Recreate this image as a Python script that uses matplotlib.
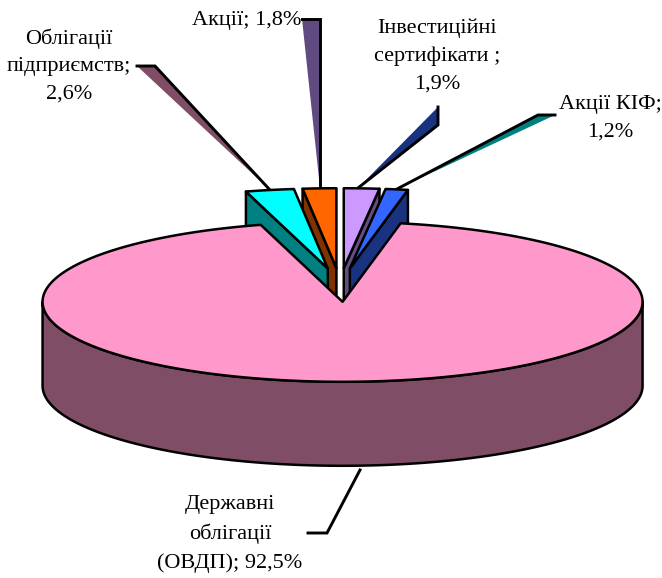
import numpy as np
import matplotlib
matplotlib.use("Agg")
import matplotlib.pyplot as plt
from matplotlib.patches import Polygon

names = ["Інвестиційні\nсертифікати ;", "Акції КІФ;", "Державні\nоблігації\n(ОВДП);", "Облігації\nпідприємств;", "Акції;"]
values = [1.9, 1.2, 92.5, 2.6, 1.8]
top_colors = ["#CC99FF", "#3366FF", "#FF99CC", "#00FFFF", "#FF6600"]
side_colors = ["#664D80", "#1A3380", "#804D66", "#008080", "#803300"]

plt.rcParams["font.family"] = ["Liberation Serif", "DejaVu Serif"]
W, H = 662, 578
fig = plt.figure(figsize=(W / 100, H / 100), dpi=100)
ax = fig.add_axes([0, 0, 1, 1])
ax.set_xlim(0, W)
ax.set_ylim(H, 0)
ax.axis("off")

CX, CY, RX, RY, DEPTH, EXPL = 340, 285, 300, 80, 84, 0.21
LW = 1.8
edges = np.concatenate([[0], np.cumsum(values)]) / sum(values) * 2 * np.pi


def pt(a, r=1.0, cx=CX, cy=CY):
    return np.array([cx + r * RX * np.sin(a), cy - r * RY * np.cos(a)])


def geom(i):
    a0, a1 = edges[i], edges[i + 1]
    m = (a0 + a1) / 2
    c = pt(m, EXPL)
    return a0, a1, c


def arc(a0, a1, c, n=200):
    t = np.linspace(a0, a1, n)
    return np.column_stack([c[0] + RX * np.sin(t), c[1] - RY * np.cos(t)])


def poly(p, color, z):
    ax.add_patch(Polygon(p, closed=True, fc=color, ec="black", lw=LW, joinstyle="round", zorder=z))


def wall(i, angle, z):
    a0, a1, c = geom(i)
    o = pt(angle, 1, c[0], c[1])
    d = np.array([0, DEPTH])
    poly([c, o, o + d, c + d], side_colors[i], z)


def top(i, z):
    a0, a1, c = geom(i)
    poly(np.vstack([[c], arc(a0, a1, c)]), top_colors[i], z)


def label(x, y, s):
    ax.text(x, y, s, ha="center", va="center", fontsize=16.0, color="black", linespacing=1.6, zorder=20)


# leader lines with their 3-D shadow
def leader(pts, fill=None):
    p = np.array(pts, float)
    if fill:
        ax.add_patch(Polygon(p, closed=True, fc=fill, ec="none", zorder=1))
    ax.plot(p[:, 0], p[:, 1], color="black", lw=LW + .3, zorder=1.5, solid_joinstyle="miter")


leader([(270, 190), (155, 66), (137, 66)], side_colors[2])
leader([(320, 188), (320, 19), (302, 19)], "#5F4B80")
leader([(358, 188), (438, 125), (438, 107)], side_colors[1])
leader([(397, 189), (538, 115), (555, 115)], side_colors[3])
leader([(360, 470), (327, 533), (308, 533)])

# exploded small slices, back to front
wall(4, edges[4], 2); top(4, 3)
wall(0, edges[1], 2); top(0, 3)
wall(1, edges[2], 4); top(1, 5)
wall(3, edges[3], 4); top(3, 5)

# main slice
a0, a1, c = geom(2)
front = arc(np.pi / 2, 3 * np.pi / 2, c)
poly(np.vstack([front, front[::-1] + [0, DEPTH]]), side_colors[2], 6)
poly(np.vstack([[c], arc(a0, a1, c, 400)]), top_colors[2], 7)

label(69, 66, f"{names[3]}\n{values[3]:.1f}%".replace(".", ","))
label(246.5, 21, f"{names[4]} {values[4]:.1f}%".replace(".", ","))
label(437, 56, f"{names[0]}\n{values[0]:.1f}%".replace(".", ","))
label(610, 118, f"{names[1]}\n{values[1]:.1f}%".replace(".", ","))
label(230, 534, f"{names[2].rsplit(chr(10), 1)[0]}\n{names[2].rsplit(chr(10), 1)[1]} {values[2]:.1f}%".replace(".", ","))

fig.savefig("out.png", dpi=100)
